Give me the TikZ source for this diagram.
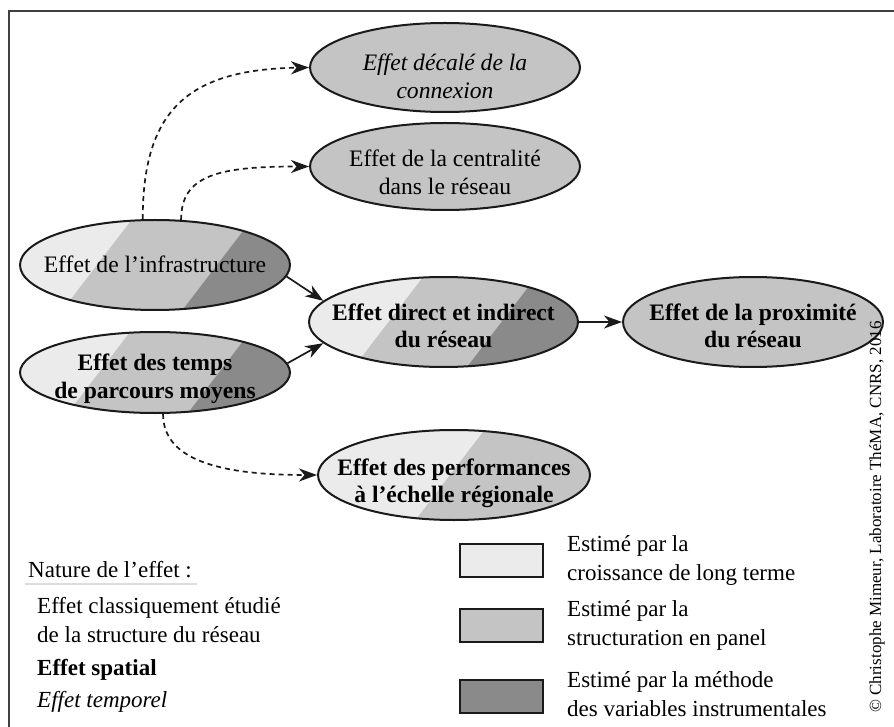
\documentclass[tikz,border=0pt]{standalone}
\usepackage{fontspec}
\setmainfont{Liberation Serif}
\usetikzlibrary{shapes.geometric, arrows.meta, calc, positioning}
\definecolor{clight}{HTML}{EBEBEB}
\definecolor{cmid}{HTML}{C4C4C4}
\definecolor{cdark}{HTML}{8A8A8A}
\definecolor{cline}{HTML}{1A1A1A}
\definecolor{cframe}{HTML}{404040}
\definecolor{cunder}{HTML}{DDDDDD}
\newcommand{\nfont}{\fontsize{23.6}{27.5}\selectfont}
\newcommand{\lfont}{\fontsize{23}{29}\selectfont}
\newcommand{\cfont}{\fontsize{17}{20}\selectfont}
\begin{document}
\begin{tikzpicture}[x=1pt, y=-1pt,
  eff/.style={ellipse, draw=cline, line width=2pt, inner sep=0pt},
  plain/.style={eff, fill=cmid},
  stripes/.style 2 args={eff, fill=clight, path picture={
     \fill[cmid] ($(path picture bounding box.center)+(#1+46,-60)$) -- ++(300,0) -- ++(0,120) -- ++(-392,0) -- cycle;
     \fill[cdark] ($(path picture bounding box.center)+(#2+46,-60)$) -- ++(300,0) -- ++(0,120) -- ++(-392,0) -- cycle;}},
  arr/.style={line width=1.7pt, draw=cline, -{Stealth[length=18pt, width=13pt, inset=5.5pt]}},
  darr/.style={arr, dash pattern=on 5pt off 4pt},
  box/.style={rectangle, draw=cline, line width=2pt, minimum width=83pt, minimum height=33pt, inner sep=0pt},
  leg/.style={font=\lfont, align=left, inner sep=0pt, anchor=west},
  frame/.style={draw=cframe, line width=1.5pt}
]
\useasboundingbox (0,0) rectangle (894,727);
\draw[frame] (9,727) -- (9,11) -- (894,11);

% nodes
\node[plain, minimum width=270pt, minimum height=89pt,
  label={[font=\nfont\itshape, align=center, yshift=-11.5pt]center:{\strut Effet décalé de la\\\strut connexion}}] (dec) at (445,67.5) {};
\node[plain, minimum width=270pt, minimum height=87pt,
  label={[font=\nfont, align=center, yshift=-8.75pt]center:{\strut Effet de la centralité\\\strut dans le réseau}}] (cent) at (445,166.5) {};
\node[stripes={-58}{62}, minimum width=270pt, minimum height=90pt,
  label={[font=\nfont, align=center, yshift=-2.5pt]center:{\strut Effet de l’infrastructure}}] (infra) at (155,265) {};
\node[stripes={-56}{64}, minimum width=270pt, minimum height=81pt,
  label={[font=\nfont\bfseries, align=center, yshift=-6.25pt]center:{\strut Effet des temps\\\strut de parcours moyens}}] (parc) at (155,372.5) {};
\node[stripes={-55}{58}, minimum width=269pt, minimum height=90pt,
  label={[font=\nfont\bfseries, align=center, yshift=-6.25pt]center:{\strut Effet direct et indirect\\\strut du réseau}}] (direct) at (443.5,322) {};
\node[plain, minimum width=260pt, minimum height=90pt,
  label={[font=\nfont\bfseries, align=center, yshift=-6.25pt]center:{\strut Effet de la proximité\\\strut du réseau}}] (prox) at (753,322) {};
\node[stripes={-4}{500}, minimum width=272pt, minimum height=90pt,
  label={[font=\nfont\bfseries, align=center, yshift=-8.25pt]center:{\strut Effet des performances\\\strut à l’échelle régionale}}] (perf) at (454,475) {};

% connectors
\draw[darr] (infra.105) .. controls +(0,-110) and +(-120,2) .. (dec.west);
\draw[darr] (infra.60) .. controls +(0,-45) and +(-90,0) .. (cent.west);
\draw[darr] (parc.-79) .. controls +(0,45) and +(-100,0) .. (perf.west);
\draw[arr] (infra.-5) -- (direct.170);
\draw[arr] (parc.4) -- (direct.190);
\draw[arr] (direct.east) -- (prox.west);

% left legend
\node[anchor=base west, font=\lfont, inner sep=0pt] (nat) at (28,577) {Nature de l’effet :};
\draw[cunder, line width=1.5pt] ($(nat.base west)+(-3,7)$) -- ++(172,0);
\node[leg] (l1) at (37,621.7) {\strut Effet classiquement étudié\\\strut de la structure du réseau};
\node[leg, font=\lfont\bfseries] (l2) at (37,669.2) {\strut Effet spatial};
\node[leg, font=\lfont\itshape] (l3) at (37,701.2) {\strut Effet temporel};

% right legend
\node[box, fill=clight] (b1) at (501.5,560.5) {};
\node[box, fill=cmid] (b2) at (501.5,625.5) {};
\node[box, fill=cdark] (b3) at (501.5,696.5) {};
\node[leg, right=23pt of b1] (t1) {\strut Estimé par la\\\strut croissance de long terme};
\node[leg, right=23pt of b2] (t2) {\strut Estimé par la\\\strut structuration en panel};
\node[leg, right=23pt of b3] (t3) {\strut Estimé par la méthode\\\strut des variables instrumentales};

% copyright
\node[rotate=90, font=\cfont, inner sep=0pt] (copy) at (877,517) {© Christophe Mimeur, Laboratoire ThéMA, CNRS, 2016};
\end{tikzpicture}
\end{document}
